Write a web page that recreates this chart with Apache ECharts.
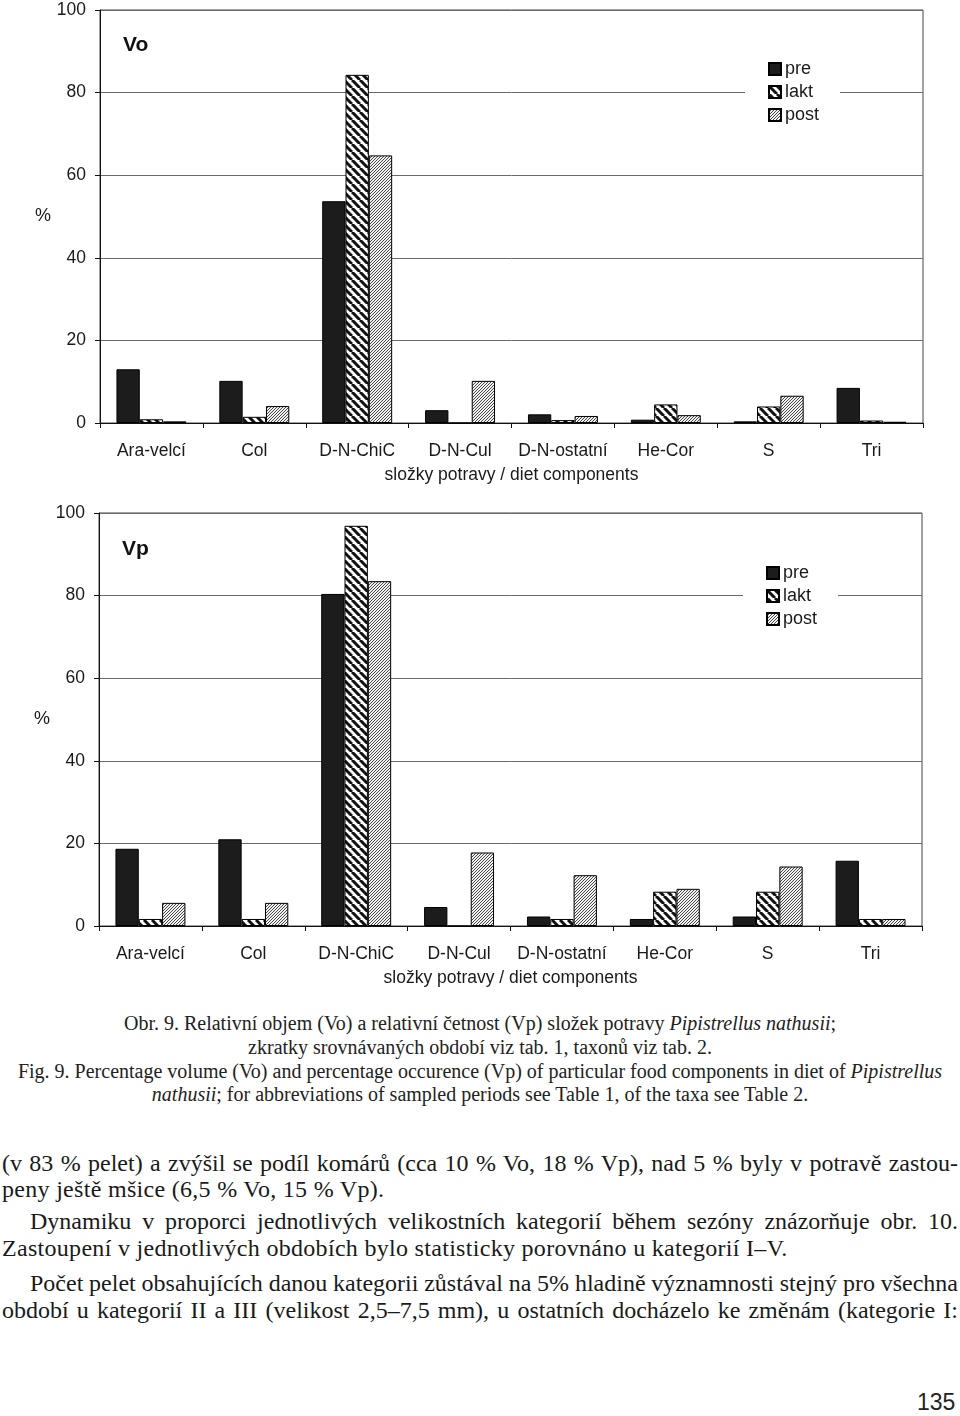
<!DOCTYPE html>
<html>
<head>
<meta charset="utf-8">
<script src="https://cdn.jsdelivr.net/npm/echarts@6/dist/echarts.min.js"></script>
<style>
  html, body { margin: 0; padding: 0; background: #fff; }
  body { width: 960px; height: 1416px; position: relative; overflow: hidden; }
  #chart { position: absolute; left: 0; top: 0; width: 960px; height: 1000px; }
  .cap { position: absolute; left: 0; width: 960px; text-align: center; white-space: nowrap;
         font-family: "Liberation Serif", "DejaVu Serif", serif; font-size: 20px; line-height: 22px; color: #222; }
  .body { position: absolute; left: 2px; width: 956px; white-space: nowrap;
          font-family: "Liberation Serif", "DejaVu Serif", serif; font-size: 24px; line-height: 26px; color: #1a1a1a; }
  .just { text-align: justify; text-align-last: justify; white-space: normal; }
  .pg { position: absolute; left: 917px; top: 1389px; font-family: "Liberation Sans", Arial, sans-serif; font-size: 23px; color: #222; }
</style>
</head>
<body>
<div id="chart"></div>

<div class="cap" style="top:1012px;">Obr. 9. Relativní objem (Vo) a relativní četnost (Vp) složek potravy <i>Pipistrellus nathusii</i>;</div>
<div class="cap" style="top:1036px;">zkratky srovnávaných období viz tab. 1, taxonů viz tab. 2.</div>
<div class="cap" style="top:1060px;">Fig. 9. Percentage volume (Vo) and percentage occurence (Vp) of particular food components in diet of <i>Pipistrellus</i></div>
<div class="cap" style="top:1083px;"><i>nathusii</i>; for abbreviations of sampled periods see Table 1, of the taxa see Table 2.</div>

<div class="body just" style="top:1150px; word-spacing:-1px;">(v 83 % pelet) a zvýšil se podíl komárů (cca 10 % Vo, 18 % Vp), nad 5 % byly v potravě zastou-</div>
<div class="body" style="top:1176px; letter-spacing:0.3px;">peny ještě mšice (6,5 % Vo, 15 % Vp).</div>
<div class="body just" style="top:1208px; left:30px; width:928px;">Dynamiku v proporci jednotlivých velikostních kategorií během sezóny znázorňuje obr. 10.</div>
<div class="body" style="top:1235px; letter-spacing:0.3px;">Zastoupení v jednotlivých obdobích bylo statisticky porovnáno u kategorií I–V.</div>
<div class="body just" style="top:1270px; left:30px; width:928px; word-spacing:-1px;">Počet pelet obsahujících danou kategorii zůstával na 5% hladině významnosti stejný pro všechna</div>
<div class="body just" style="top:1297px; word-spacing:-1px;">období u kategorií II a III (velikost 2,5–7,5 mm), u ostatních docházelo ke změnám (kategorie I:</div>

<div class="pg">135</div>

<script>
// ---- data ----
const categories = ['Ara-velcí', 'Col', 'D-N-ChiC', 'D-N-Cul', 'D-N-ostatní', 'He-Cor', 'S', 'Tri'];
const seriesNames = ['pre', 'lakt', 'post'];
const voPre  = [13.0, 10.2, 53.7, 3.1, 2.1, 0.8, 0.4, 8.5];
const voLakt = [0.9, 1.5, 84.3, 0, 0.7, 4.5, 4.0, 0.6];
const voPost = [0.4, 4.1, 64.8, 10.2, 1.7, 1.9, 6.6, 0.3];
const vpPre  = [18.7, 21.0, 80.4, 4.6, 2.3, 1.7, 2.3, 15.8];
const vpLakt = [1.7, 1.7, 96.9, 0, 1.7, 8.3, 8.3, 1.7];
const vpPost = [5.6, 5.6, 83.5, 17.8, 12.3, 9.0, 14.4, 1.7];
const yMin = 0, yMax = 100, yStep = 20;
const panelTitles = ['Vo', 'Vp'];
const axisTitle = 'složky potravy / diet components';
const yName = '%';

// ---- patterns ----
function stripes(size, lw, dir, fg, bg) {
  const c = document.createElement('canvas');
  c.width = size; c.height = size;
  const g = c.getContext('2d');
  g.fillStyle = bg; g.fillRect(0, 0, size, size);
  g.strokeStyle = fg; g.lineWidth = lw;
  for (let k = -1; k <= 1; k++) {
    g.beginPath();
    if (dir === '\\') { g.moveTo(k * size, 0); g.lineTo(k * size + size, size); }
    else { g.moveTo(k * size, size); g.lineTo(k * size + size, 0); }
    g.stroke();
  }
  return { image: c, repeat: 'repeat' };
}
const fills = [
  '#1c1c1c',
  stripes(8, 3, '\\', '#111', '#fff'),
  stripes(3, 0.9, '/', '#333', '#f2f2f2')
];

const FONT = '"Liberation Sans", Arial, sans-serif';
const grids = [
  { left: 100, right: 37, top: 10, height: 413 },
  { left: 99, right: 38, top: 513, height: 413 }
];

function xAxis(i) {
  return {
    type: 'category', gridIndex: i, data: categories,
    axisLine: { lineStyle: { color: '#111', width: 1 } },
    axisTick: { show: true, length: 5, lineStyle: { color: '#111' } },
    axisLabel: { fontSize: 17.5, color: '#1a1a1a', fontFamily: FONT, margin: 19, interval: 0 },
    name: axisTitle, nameLocation: 'middle', nameGap: 43,
    nameTextStyle: { fontSize: 17.5, color: '#1a1a1a', fontFamily: FONT }
  };
}
function yAxis(i) {
  return {
    type: 'value', gridIndex: i, min: yMin, max: yMax, interval: yStep,
    axisLine: { show: true, lineStyle: { color: '#111', width: 1 } },
    axisTick: { show: true, length: 5, lineStyle: { color: '#111' } },
    axisLabel: { fontSize: 17.5, color: '#1a1a1a', fontFamily: FONT, margin: 14 },
    splitLine: { lineStyle: { color: '#6a6a6a', width: 1 } },
    name: yName, nameLocation: 'middle', nameGap: 49, nameRotate: 0,
    nameTextStyle: { fontSize: 18, color: '#1a1a1a', fontFamily: FONT }
  };
}
const dataSets = [[voPre, voLakt, voPost], [vpPre, vpLakt, vpPost]];
const series = [];
dataSets.forEach((set, gi) => {
  set.forEach((vals, si) => {
    series.push({
      type: 'bar', name: seriesNames[si], xAxisIndex: gi, yAxisIndex: gi,
      data: vals, barGap: '0%', barCategoryGap: '32%',
      itemStyle: { color: fills[si], borderColor: '#000', borderWidth: 1 },
      emphasis: { disabled: true }
    });
  });
});
function legend(top, left) {
  return {
    orient: 'vertical', left: left, top: top, data: seriesNames,
    icon: 'rect', itemWidth: 12, itemHeight: 12, itemGap: 5,
    padding: [6, 21, 6, 23], backgroundColor: '#fff',
    textStyle: { fontSize: 18, color: '#1a1a1a', fontFamily: FONT, padding: [0, 0, 0, -1] },
    selectedMode: false
  };
}

const chart = echarts.init(document.getElementById('chart'), null, { renderer: 'canvas' });
chart.setOption({
  animation: false,
  backgroundColor: '#fff',
  title: [
    { text: panelTitles[0], left: 123, top: 35, padding: 0, textStyle: { fontSize: 21, fontWeight: 'bold', color: '#111', fontFamily: FONT } },
    { text: panelTitles[1], left: 122, top: 539, padding: 0, textStyle: { fontSize: 21, fontWeight: 'bold', color: '#111', fontFamily: FONT } }
  ],
  legend: [legend(54, 745), legend(558, 743)],
  grid: grids.map(g => Object.assign({ show: true, borderColor: '#444', borderWidth: 1, backgroundColor: 'transparent' }, g)),
  xAxis: [xAxis(0), xAxis(1)],
  yAxis: [yAxis(0), yAxis(1)],
  series: series
});
</script>
</body>
</html>
